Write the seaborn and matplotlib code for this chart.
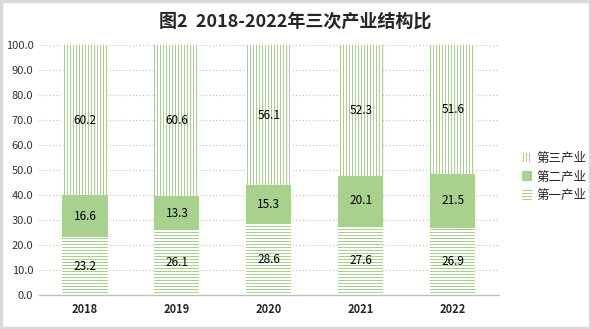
import matplotlib
matplotlib.use("Agg")
import matplotlib.pyplot as plt
import seaborn as sns
import pandas as pd
from matplotlib.patches import Patch, Rectangle
from matplotlib.ticker import FormatStrFormatter

years = ["2018", "2019", "2020", "2021", "2022"]
primary = [23.2, 26.1, 28.6, 27.6, 26.9]
secondary = [16.6, 13.3, 15.3, 20.1, 21.5]
tertiary = [60.2, 60.6, 56.1, 52.3, 51.6]
series_names = ["第一产业", "第二产业", "第三产业"]
title = "图2  2018-2022年三次产业结构比"

DPI = 90
S = 100 / DPI  # scale so point sizes look as at 100 dpi

sns.set_theme(style="white")
plt.rcParams['font.family'] = ['Noto Sans CJK SC', 'DejaVu Sans']
plt.rcParams['hatch.linewidth'] = 0.8

green = "#a9d18e"
fig = plt.figure(figsize=(591 / DPI, 329 / DPI), dpi=DPI)
ax = fig.add_axes([0.066, 0.1033, 0.778, 0.76])

df = pd.DataFrame({"year": years, "p": primary, "s": secondary, "t": tertiary})
bottoms2 = [a for a in primary]
bottoms3 = [a + b for a, b in zip(primary, secondary)]

hh = "-----"
vh = "|||||"
styles = [("p", None, "white", hh), ("s", bottoms2, green, None), ("t", bottoms3, "white", vh)]
groups = []
for col, bot, fc, hatch in styles:
    n_before = len(ax.patches)
    kw = {}
    if bot is not None:
        kw["bottom"] = bot
    sns.barplot(data=df, x="year", y=col, ax=ax, color=fc, width=0.49,
                saturation=1, **kw)
    new = ax.patches[n_before:]
    for p in new:
        p.set_facecolor(fc)
        p.set_edgecolor(green)
        p.set_linewidth(0)
        if hatch:
            p.set_hatch(hatch)
    groups.append(new)

vals = [primary, secondary, tertiary]
for patches, v in zip(groups, vals):
    for p, val in zip(patches, v):
        cx = p.get_x() + p.get_width() / 2
        cy = p.get_y() + p.get_height() / 2
        ax.text(cx, cy, f"{val:.1f}", ha="center", va="center", fontsize=8.5 * S,
                color="black", fontweight="medium")

ax.set_ylim(0, 100)
ax.set_xlim(-0.5, 4.5)
ax.set_yticks(range(0, 101, 10))
ax.yaxis.set_major_formatter(FormatStrFormatter("%.1f"))
ax.grid(axis="y", linestyle=(0, (1, 2)), color="#c0c0c0", linewidth=0.8 * S)
ax.set_axisbelow(True)
for s in ["left", "right", "top"]:
    ax.spines[s].set_visible(False)
ax.spines["bottom"].set_color("#bfbfbf")
ax.spines["bottom"].set_linewidth(1.0 * S)
ax.set_xlabel("")
ax.set_ylabel("")
ax.tick_params(axis="y", labelsize=8 * S, length=0, pad=4 * S, colors="#333333")
ax.tick_params(axis="x", labelsize=8 * S, length=0, pad=6 * S)
for t in ax.get_xticklabels():
    t.set_fontweight("bold")

handles = [Patch(facecolor="white", edgecolor=green, hatch=vh, linewidth=0, label="第三产业"),
           Patch(facecolor=green, edgecolor=green, linewidth=0, label="第二产业"),
           Patch(facecolor="white", edgecolor=green, hatch=hh, linewidth=0, label="第一产业")]
fig.legend(handles=handles, loc="center left", bbox_to_anchor=(0.865, 0.462), frameon=False,
           fontsize=9 * S, handlelength=0.8, handleheight=0.8, handletextpad=0.3, labelspacing=0.45)

fig.text(0.5, 0.935, title, ha="center", va="center", fontsize=13 * S, fontweight="bold")
fig.patches.append(Rectangle((0.002, 0.003), 0.996, 0.994, transform=fig.transFigure,
                             fill=False, edgecolor="#d9d9d9", linewidth=2.5 * S))
fig.savefig("out.png", dpi=DPI)
